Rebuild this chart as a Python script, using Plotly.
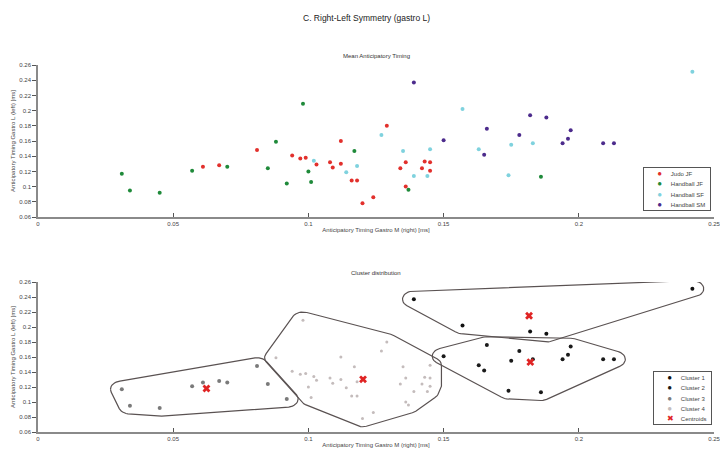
import numpy as np
import plotly.graph_objects as go

# ---------------- data ----------------
group_names = ["Judo JF", "Handball JF", "Handball SF", "Handball SM"]
group_colors = ["#e2302c", "#1f8a3a", "#7fd2de", "#4c2b8c"]

judo_jf_x = [0.061, 0.067, 0.081, 0.094, 0.097, 0.099, 0.103, 0.108, 0.109, 0.112, 0.112, 0.116,
             0.118, 0.120, 0.124, 0.129, 0.134, 0.136, 0.136, 0.142, 0.143, 0.145, 0.145]
judo_jf_y = [0.126, 0.128, 0.148, 0.141, 0.137, 0.138, 0.129, 0.132, 0.125, 0.160, 0.130, 0.108,
             0.108, 0.078, 0.086, 0.180, 0.124, 0.132, 0.100, 0.124, 0.133, 0.132, 0.121]
judo_jf_cluster = [3, 3, 3, 4, 4, 4, 4, 4, 4, 4, 4, 4, 4, 4, 4, 4, 4, 4, 4, 4, 4, 4, 4]

handball_jf_x = [0.031, 0.034, 0.045, 0.057, 0.070, 0.085, 0.088, 0.092, 0.098, 0.100, 0.101,
                 0.117, 0.137, 0.186]
handball_jf_y = [0.117, 0.095, 0.092, 0.121, 0.126, 0.124, 0.159, 0.104, 0.209, 0.120, 0.106,
                 0.147, 0.096, 0.113]
handball_jf_cluster = [3, 3, 3, 3, 3, 3, 4, 3, 4, 4, 4, 4, 4, 2]

handball_sf_x = [0.102, 0.114, 0.118, 0.127, 0.135, 0.139, 0.145, 0.144, 0.157, 0.163, 0.175,
                 0.174, 0.183, 0.242]
handball_sf_y = [0.134, 0.119, 0.127, 0.168, 0.147, 0.114, 0.149, 0.114, 0.202, 0.149, 0.155,
                 0.115, 0.157, 0.251]
handball_sf_cluster = [4, 4, 4, 4, 4, 4, 4, 4, 1, 2, 2, 2, 2, 1]

handball_sm_x = [0.139, 0.150, 0.166, 0.165, 0.178, 0.182, 0.188, 0.194, 0.196, 0.197, 0.209, 0.213]
handball_sm_y = [0.237, 0.161, 0.176, 0.142, 0.168, 0.194, 0.191, 0.157, 0.163, 0.174, 0.157, 0.157]
handball_sm_cluster = [1, 2, 2, 2, 2, 1, 1, 2, 2, 2, 2, 2]

cluster_names = ["Cluster 1", "Cluster 2", "Cluster 3", "Cluster 4"]
cluster_colors = ["#111111", "#1a1a1a", "#7a7a7a", "#c4bcbc"]
cluster_sizes = [4, 4, 4, 3]
centroid_name = "Centroids"
centroid_color = "#e02424"

x_ticks = [0, 0.05, 0.1, 0.15, 0.2, 0.25]
x_tick_labels = ["0", "0.05", "0.1", "0.15", "0.2", "0.25"]
y_ticks = [0.06, 0.08, 0.1, 0.12, 0.14, 0.16, 0.18, 0.2, 0.22, 0.24, 0.26]
y_tick_labels = ["0.06", "0.08", "0.1", "0.12", "0.14", "0.16", "0.18", "0.2", "0.22", "0.24", "0.26"]

groups_x = [judo_jf_x, handball_jf_x, handball_sf_x, handball_sm_x]
groups_y = [judo_jf_y, handball_jf_y, handball_sf_y, handball_sm_y]
groups_c = [judo_jf_cluster, handball_jf_cluster, handball_sf_cluster, handball_sm_cluster]

all_x = np.concatenate([np.array(v) for v in groups_x])
all_y = np.concatenate([np.array(v) for v in groups_y])
all_c = np.concatenate([np.array(v) for v in groups_c])

FONT = "Liberation Sans, Arial, sans-serif"
fig = go.Figure()

# ---------------- top: groups ----------------
for name, col, gx, gy in zip(group_names, group_colors, groups_x, groups_y):
    fig.add_trace(go.Scatter(x=gx, y=gy, mode="markers", name=name, showlegend=False,
                             marker=dict(color=col, size=4, line=dict(width=0)),
                             xaxis="x", yaxis="y"))

# ---------------- bottom: clusters ----------------
def convex_hull(pts):
    pts = sorted(set(map(tuple, pts)))
    def cross(o, a, b):
        return (a[0]-o[0])*(b[1]-o[1]) - (a[1]-o[1])*(b[0]-o[0])
    lower, upper = [], []
    for p in pts:
        while len(lower) >= 2 and cross(lower[-2], lower[-1], p) <= 0:
            lower.pop()
        lower.append(p)
    for p in reversed(pts):
        while len(upper) >= 2 and cross(upper[-2], upper[-1], p) <= 0:
            upper.pop()
        upper.append(p)
    return lower[:-1] + upper[:-1]

rx, ry = 0.0042, 0.011
ang = np.linspace(0, 2*np.pi, 36, endpoint=False)
for k in range(1, 5):
    m = all_c == k
    px, py = all_x[m], all_y[m]
    pad = [(x + rx*np.cos(a), y + ry*np.sin(a)) for x, y in zip(px, py) for a in ang]
    hull = convex_hull(pad)
    hull.append(hull[0])
    hx, hy = zip(*hull)
    fig.add_trace(go.Scatter(x=hx, y=hy, mode="lines", showlegend=False, hoverinfo="skip",
                             line=dict(color="#5a5252", width=1.2),
                             xaxis="x2", yaxis="y2"))

for k in range(1, 5):
    m = all_c == k
    fig.add_trace(go.Scatter(x=all_x[m], y=all_y[m], mode="markers", name=cluster_names[k-1],
                             showlegend=False,
                             marker=dict(color=cluster_colors[k-1], size=cluster_sizes[k-1], line=dict(width=0)),
                             xaxis="x2", yaxis="y2"))

cent_x = [all_x[all_c == k].mean() for k in range(1, 5)]
cent_y = [all_y[all_c == k].mean() for k in range(1, 5)]
fig.add_trace(go.Scatter(x=cent_x, y=cent_y, mode="markers", name=centroid_name, showlegend=False,
                         marker=dict(symbol="x", color=centroid_color, size=7, line=dict(width=0)),
                         xaxis="x2", yaxis="y2"))

# ---------------- layout ----------------
W, H = 720, 450
ML, MR, MT, MB = 38, 6, 65, 18
plot_w = W - ML - MR
plot_h = H - MT - MB

def px_to_paper(px, py):
    return (px - ML) / plot_w, (H - MB - py) / plot_h

axis_common = dict(showgrid=False, zeroline=False, showline=True, linecolor="#8a8a8a", linewidth=1.5,
                   tickfont=dict(size=6, color="#444", family=FONT), tickcolor="#555", ticklen=4,
                   title_font=dict(size=6, color="#444", family=FONT), automargin=False,
                   ticklabeloverflow="allow")
xtitle = "Anticipatory Timing Gastro M (right) [ms]"
ytitle = "Anticipatory Timing Gastro L (left) [ms]"

top_dom = [px_to_paper(0, 217)[1], px_to_paper(0, 65)[1]]
bot_dom = [px_to_paper(0, 432)[1], px_to_paper(0, 282)[1]]

fig.update_layout(
    width=W, height=H,
    paper_bgcolor="white", plot_bgcolor="white",
    margin=dict(l=ML, r=MR, t=MT, b=MB, autoexpand=False),
    showlegend=False,
    font=dict(family=FONT, size=6, color="#333"),
    xaxis=dict(axis_common, range=[0, 0.25], tickvals=x_ticks, ticktext=x_tick_labels,
               ticks="inside", domain=[0, 1], anchor="y",
               title=dict(text=xtitle, standoff=2)),
    yaxis=dict(axis_common, range=[0.06, 0.26], tickvals=y_ticks, ticktext=y_tick_labels,
               ticks="outside", domain=top_dom, anchor="x",
               title=dict(text=ytitle, standoff=3)),
    xaxis2=dict(axis_common, range=[0, 0.25], tickvals=x_ticks, ticktext=x_tick_labels,
                ticks="inside", domain=[0, 1], anchor="y2",
                title=dict(text=xtitle, standoff=2)),
    yaxis2=dict(axis_common, range=[0.06, 0.26], tickvals=y_ticks, ticktext=y_tick_labels,
                ticks="outside", domain=bot_dom, anchor="x2",
                title=dict(text=ytitle, standoff=3)),
)

NB = "\u00a0"
def legend_text(names, colors, glyphs, gaps):
    lines = []
    for n, c, g, gap in zip(names, colors, glyphs, gaps):
        lines.append(f'{NB*5}<span style="color:{c}">{g}</span>{NB*gap}'
                     f'<span style="font-size:6px;color:#444">{n}</span>')
    return "<br>".join(lines)

anns = []
for text, (px, py), size, col in [
    ("C. Right-Left Symmetry (gastro L)", (366, 18), 8.5, "#222"),
    ("Mean Anticipatory Timing", (376, 56), 6, "#333"),
    ("Cluster distribution", (376, 273), 6, "#333"),
]:
    ax_, ay_ = px_to_paper(px, py)
    anns.append(dict(text=text, x=ax_, y=ay_, xref="paper", yref="paper", showarrow=False,
                     xanchor="center", yanchor="middle", font=dict(size=size, color=col, family=FONT)))

# legend boxes (real text)
lx, ly = px_to_paper(711, 167)
anns.append(dict(text=legend_text(group_names, group_colors, ["●"] * 4, [4] * 4),
                 x=lx, y=ly, xref="paper", yref="paper", xanchor="right", yanchor="top",
                 showarrow=False, align="left", width=62, height=38, borderpad=2,
                 bordercolor="#555", borderwidth=1, bgcolor="white",
                 font=dict(size=8, family=FONT, color="#444")))
lx2, ly2 = px_to_paper(712, 371)
anns.append(dict(text=legend_text(cluster_names + [centroid_name],
                                  cluster_colors + [centroid_color], ["●"] * 4 + ["✖"], [4] * 4 + [3]),
                 x=lx2, y=ly2, xref="paper", yref="paper", xanchor="right", yanchor="top",
                 showarrow=False, align="left", width=53, height=48, borderpad=2,
                 bordercolor="#555", borderwidth=1, bgcolor="white",
                 font=dict(size=8, family=FONT, color="#444")))
fig.update_layout(annotations=anns)

fig.write_html("out.html")
